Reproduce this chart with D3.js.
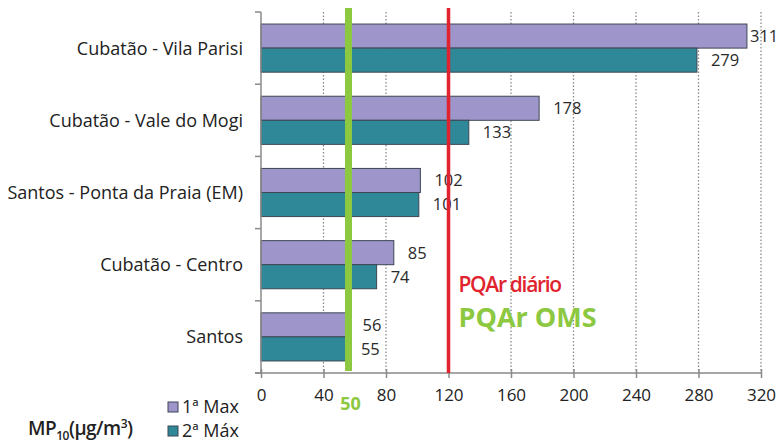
<!DOCTYPE html>
<html>
<head>
<meta charset="utf-8">
<script src="https://cdn.jsdelivr.net/npm/d3@7"></script>
<style>
  body { margin: 0; background: #fff; }
  svg { display: block; font-family: "Open Sans", "DejaVu Sans", sans-serif; }
</style>
</head>
<body>
<script>
// data
var stations = ["Cubatão - Vila Parisi", "Cubatão - Vale do Mogi", "Santos - Ponta da Praia (EM)", "Cubatão - Centro", "Santos"];
var max1 = [311, 178, 102, 85, 56];
var max2 = [279, 133, 101, 74, 55];
var seriesNames = ["1ª Max", "2ª Máx"];
var xTicks = [0, 40, 80, 120, 160, 200, 240, 280, 320];
var pqarDiario = 120;
var pqarOms = 50;       // label value
var omsDrawnAt = 56;    // where the green line sits in the original

var width = 781, height = 445;
var margin = { top: 12, left: 261, right: 20, bottom: 72 };

var svg = d3.select("body").append("svg")
  .attr("width", width)
  .attr("height", height);

var x = d3.scaleLinear().domain([0, 320]).range([margin.left, width - margin.right]);
var y = d3.scaleBand().domain(stations).range([margin.top, height - margin.bottom]).paddingInner(0).paddingOuter(0);
var inner = d3.scaleBand().domain([0, 1]).range([0, y.bandwidth()]).paddingOuter(0.5).paddingInner(0);

var colours = ["#9e96ca", "#2f8898"];

// dotted grid
svg.append("g")
  .selectAll("line")
  .data(xTicks.slice(1))
  .enter().append("line")
  .attr("x1", d => x(d)).attr("x2", d => x(d))
  .attr("y1", margin.top).attr("y2", height - margin.bottom)
  .attr("stroke", "#8a8a8a")
  .attr("stroke-width", 1.3)
  .attr("stroke-dasharray", "1.5,2");

// bars
var rows = stations.map((s, i) => ({ s, v: [max1[i], max2[i]] }));

var g = svg.append("g").selectAll("g")
  .data(rows)
  .enter().append("g")
  .attr("transform", d => "translate(0," + y(d.s) + ")");

[0, 1].forEach(k => {
  g.append("rect")
    .attr("x", x(0))
    .attr("y", inner(k))
    .attr("width", d => x(d.v[k]) - x(0))
    .attr("height", inner.bandwidth())
    .attr("fill", colours[k])
    .attr("stroke", "#3d4654")
    .attr("stroke-width", 1);

  g.append("text")
    .attr("x", d => Math.min(x(d.v[k]) + 14, width - 31))  // keep 311 inside
    .attr("y", inner(k) + inner.bandwidth() / 2)
    .attr("dy", "0.36em")
    .attr("font-size", 16.5)
    .attr("fill", "#2a2a2a")
    .text(d => d.v[k]);
});

// y axis
var yAxis = svg.append("g")
  .attr("transform", "translate(" + margin.left + ",0)");
yAxis.append("line")
  .attr("y1", margin.top).attr("y2", height - margin.bottom)
  .attr("stroke", "#8a8a8a").attr("stroke-width", 1.5);
yAxis.selectAll(".tk")
  .data(stations.map(s => y(s)).concat([height - margin.bottom]))
  .enter().append("line")
  .attr("x1", -6).attr("x2", 0)
  .attr("y1", d => d).attr("y2", d => d)
  .attr("stroke", "#8a8a8a").attr("stroke-width", 1.5);
yAxis.selectAll("text")
  .data(stations)
  .enter().append("text")
  .attr("x", -18)
  .attr("y", d => y(d) + y.bandwidth() / 2)
  .attr("dy", "0.36em")
  .attr("text-anchor", "end")
  .attr("font-size", 18)
  .attr("fill", "#222")
  .text(d => d);

// x axis
var xa = svg.append("g")
  .attr("transform", "translate(0," + (height - margin.bottom) + ")")
  .call(d3.axisBottom(x).tickValues(xTicks).tickSize(5).tickPadding(11));
xa.select(".domain").attr("stroke", "#8a8a8a").attr("stroke-width", 1.5).attr("d", "M" + (x(0) - 6) + ",0H" + x(320));
xa.selectAll(".tick line").attr("stroke", "#8a8a8a").attr("stroke-width", 1.5).attr("y1", -4);
xa.selectAll(".tick text").attr("font-size", 17).attr("fill", "#222")
  .attr("font-family", "\"Open Sans\", sans-serif");

// reference lines
svg.append("line")
  .attr("x1", x(pqarDiario)).attr("x2", x(pqarDiario))
  .attr("y1", 8).attr("y2", height - margin.bottom)
  .attr("stroke", "#e0232e").attr("stroke-width", 3.5);

svg.append("line")
  .attr("x1", x(omsDrawnAt)).attr("x2", x(omsDrawnAt))
  .attr("y1", 8).attr("y2", height - margin.bottom - 2)
  .attr("stroke", "#8cc840").attr("stroke-width", 7);

svg.append("text")
  .attr("x", x(omsDrawnAt) + 2).attr("y", 410)
  .attr("text-anchor", "middle")
  .attr("font-size", 18).attr("font-weight", "bold")
  .attr("fill", "#8cc840")
  .text(pqarOms);

svg.append("text")
  .attr("x", x(pqarDiario) + 10).attr("y", 292)
  .attr("font-size", 21).attr("font-weight", 600)
  .attr("letter-spacing", -1.3)
  .attr("fill", "#e0232e")
  .text("PQAr diário");

svg.append("text")
  .attr("x", x(pqarDiario) + 10).attr("y", 327)
  .attr("font-size", 27).attr("font-weight", "bold")
  .attr("fill", "#8cc840")
  .text("PQAr OMS");

// legend
var lg = svg.append("g").attr("transform", "translate(168,402)");
seriesNames.forEach((n, i) => {
  lg.append("rect")
    .attr("x", 0).attr("y", i * 24)
    .attr("width", 10).attr("height", 10)
    .attr("fill", colours[i]).attr("stroke", "#3d4654");
  lg.append("text")
    .attr("x", 14).attr("y", i * 24 + 5)
    .attr("dy", "0.36em")
    .attr("font-size", 18).attr("fill", "#222")
    .text(n);
});

var mp = svg.append("text")
  .attr("x", 28).attr("y", 435)
  .attr("font-size", 19).attr("font-weight", 600)
  .attr("letter-spacing", -0.5)
  .attr("fill", "#222");
mp.append("tspan").text("MP");
mp.append("tspan").attr("font-size", 12).attr("dy", 5).text("10");
mp.append("tspan").attr("dy", -5).text("(µg/m");
mp.append("tspan").attr("font-size", 12).attr("dy", -7).text("3");
mp.append("tspan").attr("dy", 7).text(")");
</script>
</body>
</html>
